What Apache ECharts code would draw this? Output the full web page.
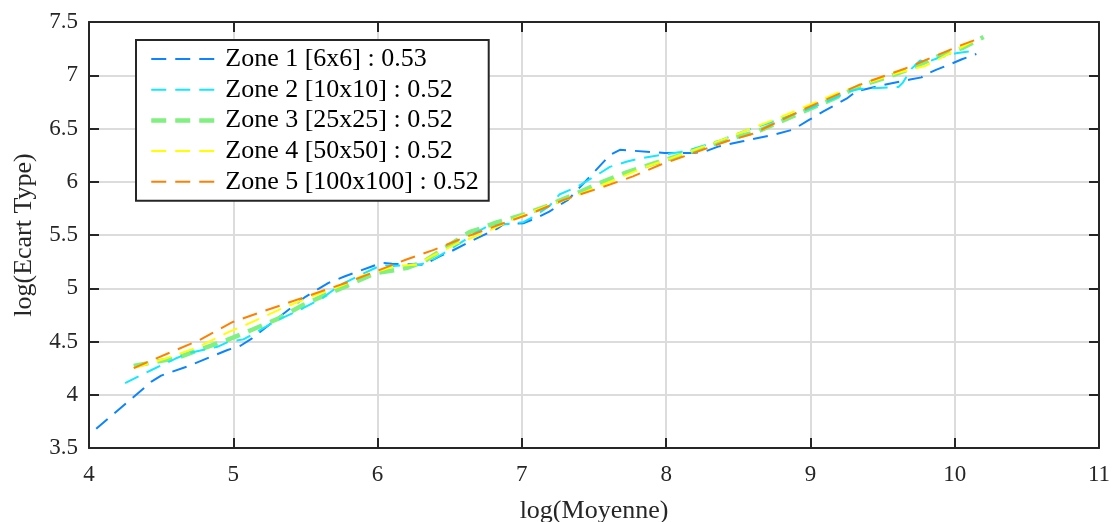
<!DOCTYPE html>
<html>
<head>
<meta charset="utf-8">
<script src="https://cdn.jsdelivr.net/npm/echarts@6/dist/echarts.min.js"></script>
<style>
html,body{margin:0;padding:0;background:#fff;}
#chart{width:1112px;height:522px;}
</style>
</head>
<body>
<div id="chart"></div>
<script>
// ---- Data ----
const seriesNames = [
  'Zone 1 [6x6] : 0.53',
  'Zone 2 [10x10] : 0.52',
  'Zone 3 [25x25] : 0.52',
  'Zone 4 [50x50] : 0.52',
  'Zone 5 [100x100] : 0.52'
];
const zone1X = [4.05,4.43,4.50,4.69,4.96,5.05,5.13,5.29,5.50,5.66,5.77,5.95,6.03,6.10,6.32,6.43,6.50,6.66,6.83,6.87,7.01,7.10,7.19,7.32,7.48,7.61,7.68,7.99,8.07,8.18,8.26,8.36,8.53,8.74,8.88,8.99,9.09,9.25,9.32,9.51,9.62,9.69,9.77,9.80,9.87,9.98,10.05,10.15];
const zone1Y = [3.68,4.12,4.18,4.27,4.42,4.46,4.53,4.70,4.92,5.05,5.11,5.20,5.24,5.23,5.22,5.30,5.34,5.45,5.56,5.60,5.61,5.66,5.72,5.83,6.06,6.25,6.30,6.27,6.27,6.27,6.28,6.33,6.38,6.44,6.49,6.58,6.66,6.78,6.85,6.91,6.94,6.96,6.98,7.01,7.05,7.11,7.15,7.20];
const zone2X = [4.25,4.43,4.60,4.69,4.89,4.97,5.07,5.15,5.29,5.48,5.62,5.74,5.86,6.03,6.11,6.29,6.36,6.46,6.59,6.69,6.76,6.87,7.01,7.08,7.19,7.26,7.38,7.54,7.61,7.73,7.82,7.96,8.10,8.19,8.38,8.53,8.75,9.00,9.16,9.27,9.34,9.47,9.61,9.64,9.70,9.76,9.80,9.88,9.96,10.02,10.14];
const zone2Y = [4.11,4.23,4.34,4.39,4.45,4.50,4.52,4.58,4.69,4.81,4.91,5.03,5.11,5.22,5.21,5.22,5.25,5.33,5.44,5.53,5.58,5.60,5.62,5.67,5.77,5.88,5.95,6.08,6.14,6.19,6.22,6.25,6.28,6.31,6.39,6.47,6.57,6.69,6.78,6.85,6.87,6.88,6.89,6.93,7.06,7.14,7.12,7.16,7.19,7.21,7.23];
const zone3X = [4.31,4.50,4.60,4.76,4.95,5.13,5.32,5.48,5.66,5.80,5.98,6.12,6.20,6.32,6.48,6.64,6.69,6.83,7.01,7.17,7.36,7.56,7.73,7.91,8.10,8.28,8.46,8.63,8.97,9.16,9.34,9.53,9.69,9.87,10.06,10.20];
const zone3Y = [4.27,4.32,4.34,4.42,4.51,4.61,4.72,4.84,4.95,5.03,5.14,5.17,5.19,5.25,5.39,5.53,5.55,5.62,5.69,5.77,5.88,6.00,6.09,6.17,6.25,6.33,6.41,6.47,6.67,6.78,6.90,6.98,7.06,7.17,7.26,7.36];
const zone4X = [4.31,4.53,4.76,4.97,5.11,5.32,5.52,5.76,5.90,6.13,6.27,6.39,6.55,6.74,6.96,7.15,7.36,7.61,7.84,8.03,8.40,8.80,9.20,9.60,9.80,10.17];
const zone4Y = [4.25,4.34,4.45,4.59,4.67,4.80,4.91,5.03,5.12,5.21,5.22,5.31,5.42,5.52,5.66,5.76,5.86,6.00,6.13,6.22,6.40,6.61,6.84,7.02,7.09,7.35];
const zone5X = [4.31,4.55,4.76,4.99,5.20,5.48,5.80,6.20,6.39,6.59,6.83,7.06,7.29,7.56,7.77,7.96,8.19,8.42,8.60,8.97,9.34,9.69,10.04,10.14];
const zone5Y = [4.25,4.39,4.51,4.68,4.78,4.91,5.06,5.27,5.36,5.47,5.59,5.70,5.83,5.95,6.05,6.16,6.27,6.38,6.45,6.69,6.91,7.08,7.28,7.33];
const xTicks = [4,5,6,7,8,9,10,11];
const yTicks = [3.5,4,4.5,5,5.5,6,6.5,7,7.5];

// ---- Styles ----
const colors = ['#0a84ff','#12e8ff','#80f080','#ffff00','#ff8000'];
const widths = [2,2,4.5,2,2];
const FONT = 'Liberation Serif';
const AXIS_COLOR = '#262626';

const xs = [zone1X,zone2X,zone3X,zone4X,zone5X];
const ys = [zone1Y,zone2Y,zone3Y,zone4Y,zone5Y];

const series = seriesNames.map((name,i)=>({
  name: name,
  type: 'line',
  xAxisIndex: 0,
  yAxisIndex: 0,
  symbol: 'none',
  showSymbol: false,
  silent: true,
  animation: false,
  data: xs[i].map((x,k)=>[x, ys[i][k]]),
  lineStyle: {color: colors[i], width: widths[i], type: [15,9]},
  itemStyle: {color: colors[i]},
  z: 2 + (i===2 ? 0 : i)
}));

function baseAxisStyle(){
  return {
    axisLine: {show:true, onZero:false, lineStyle:{color:AXIS_COLOR, width:2}},
    axisTick: {show:true, inside:true, length:10, lineStyle:{color:AXIS_COLOR, width:2}},
  };
}

const option = {
  backgroundColor: '#fff',
  animation: false,
  textStyle: {fontFamily: FONT},
  grid: {left: 89, right: 13, top: 22, bottom: 74, containLabel: false, outerBoundsMode: 'none'},
  legend: {
    orient: 'vertical',
    left: 136, top: 40,
    padding: [6, 10, 6, 13],
    itemWidth: 69, itemHeight: 14, itemGap: 4.7,
    backgroundColor: '#fff',
    borderColor: AXIS_COLOR, borderWidth: 2,
    itemStyle: {opacity: 0},
    lineStyle: {width: 'inherit', type: 'inherit'},
    textStyle: {fontFamily: FONT, fontSize: 26, lineHeight: 26, color: '#000'},
    data: seriesNames
  },
  xAxis: [
    Object.assign(baseAxisStyle(), {
      type:'value', position:'bottom', min: xTicks[0], max: xTicks[xTicks.length-1], interval: 1,
      name: 'log(Moyenne)', nameLocation:'middle', nameGap: 50,
      nameTextStyle: {fontFamily: FONT, fontSize: 26, color:'#262626'},
      axisLabel: {margin: 15, fontFamily: 'serif', fontSize: 23, color:'#262626'},
      splitLine: {show:true, lineStyle:{color:'#dcdcdc', width:2}}
    }),
    Object.assign(baseAxisStyle(), {
      type:'value', position:'top', min: xTicks[0], max: xTicks[xTicks.length-1], interval: 1,
      axisLabel: {show:false}, splitLine: {show:false}
    })
  ],
  yAxis: [
    Object.assign(baseAxisStyle(), {
      type:'value', position:'left', min: yTicks[0], max: yTicks[yTicks.length-1], interval: 0.5,
      name: 'log(Ecart Type)', nameLocation:'middle', nameGap: 52,
      nameTextStyle: {fontFamily: FONT, fontSize: 26, color:'#262626'},
      axisLabel: {margin: 11, fontFamily: 'serif', fontSize: 23, color:'#262626'},
      splitLine: {show:true, lineStyle:{color:'#dcdcdc', width:2}}
    }),
    Object.assign(baseAxisStyle(), {
      type:'value', position:'right', min: yTicks[0], max: yTicks[yTicks.length-1], interval: 0.5,
      axisLabel: {show:false}, splitLine: {show:false}
    })
  ],
  series: series
};

const chart = echarts.init(document.getElementById('chart'), null, {renderer:'canvas'});
chart.setOption(option);
</script>
</body>
</html>
